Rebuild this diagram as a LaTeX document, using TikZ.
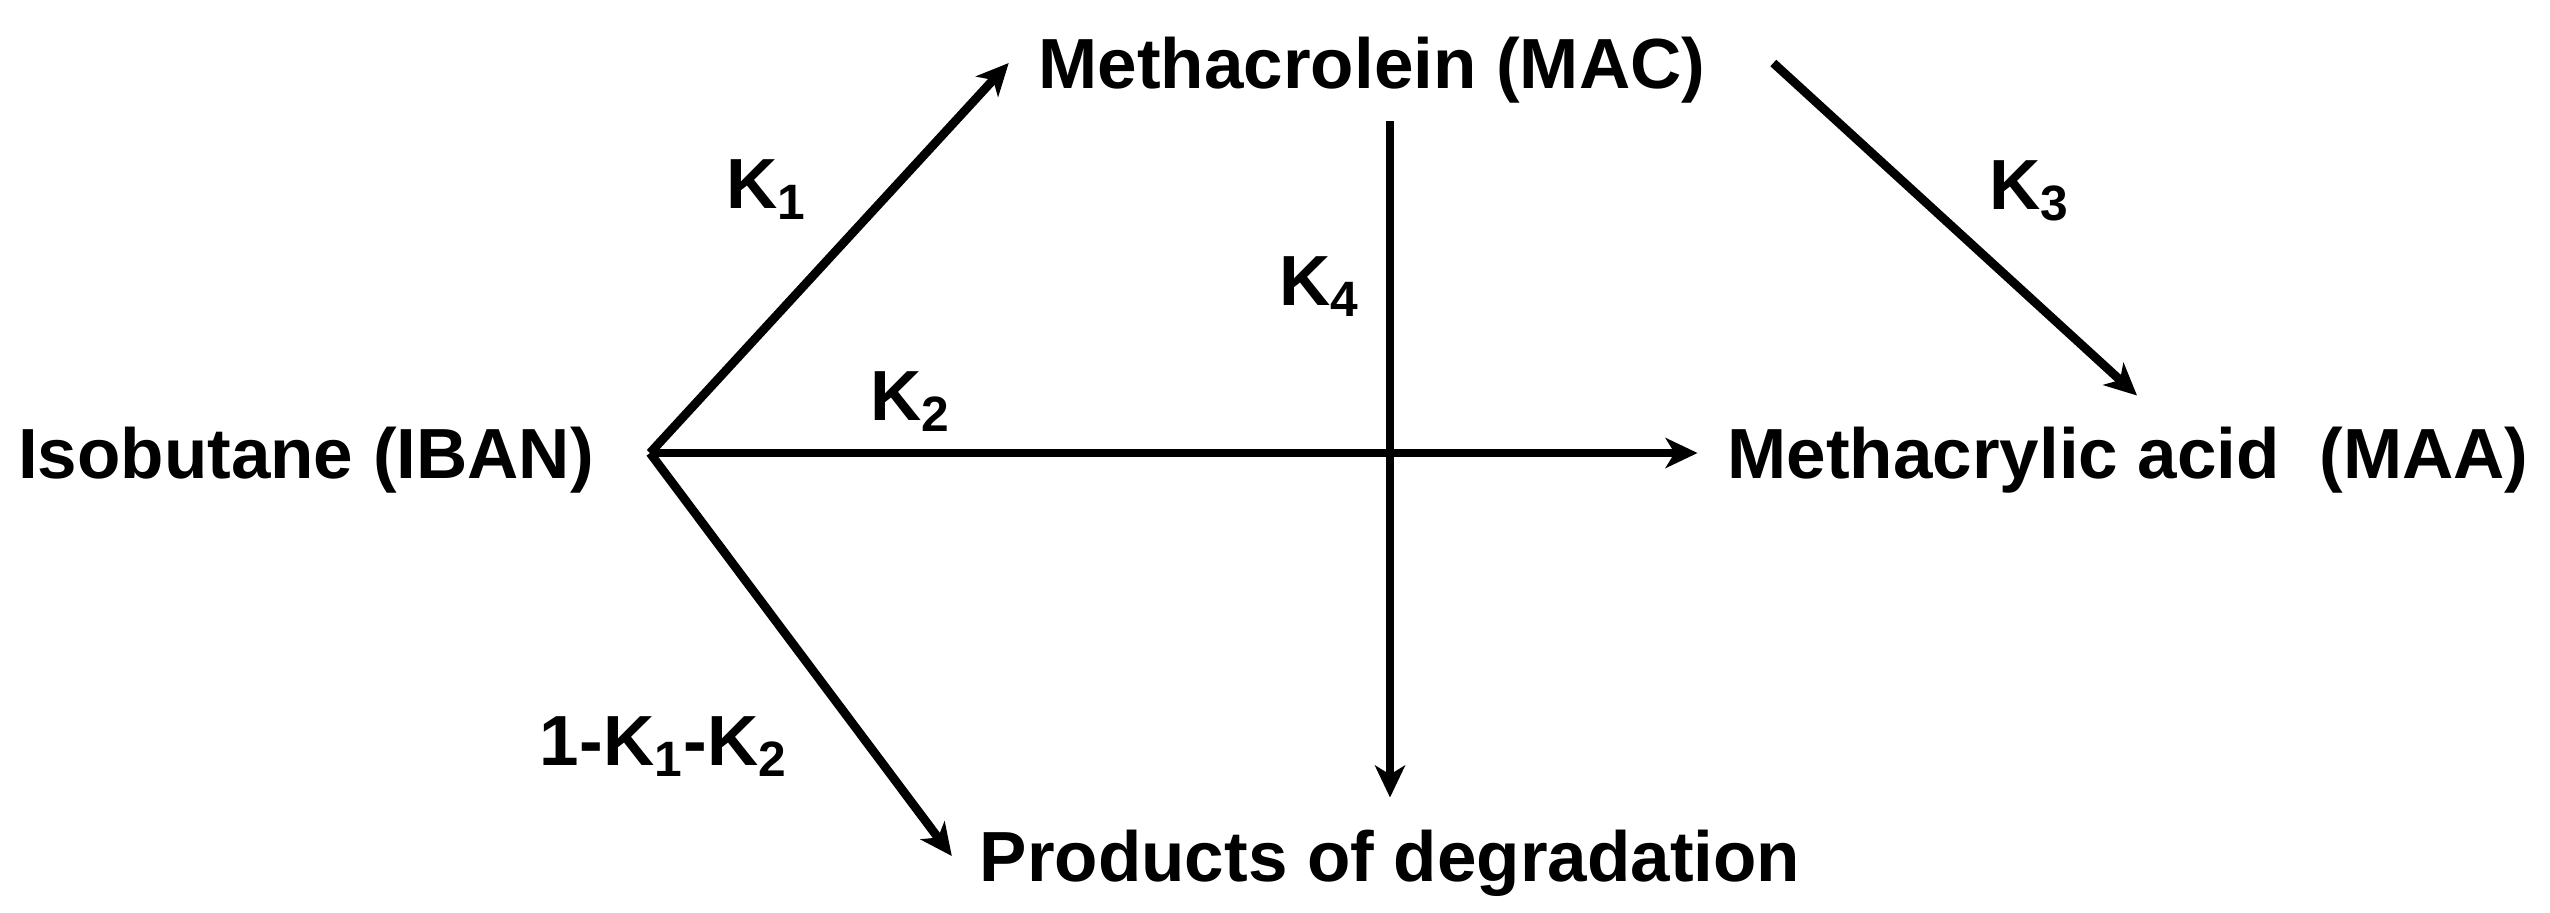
\documentclass[tikz,border=0pt]{standalone}
\usepackage{fontspec}
\setmainfont{Liberation Sans}
\usetikzlibrary{positioning,arrows.meta}

\begin{document}
\begin{tikzpicture}[
      nodes={
        font=\fontsize{20.2}{24}\selectfont\bfseries,
        inner sep=0pt, outer sep=0pt, text height=14.5pt, text depth=0pt
      },
      on grid, line width=2.5pt,
      >={Stealth[length=3.2mm,width=3mm,inset=0.9mm]}
      ]

  \useasboundingbox (0,0) rectangle (25.5,-9.12);

	  \node (iban) at (3.06,-4.53) {Isobutane (IBAN)};
	  \node[above right = 3.90 and 10.66 of iban] (mac) {Methacrolein (MAC)};
	  \node[right = 18.22 of iban] (maa) {Methacrylic acid\ \ (MAA)};
	  \node[below right = 4.03 and 10.84 of iban] (prod) {Products of degradation};
	  \coordinate[right = 3.44 of iban] (fork);

	  \node[above right = 2.70 and 4.61 of iban] (k1) {K\textsubscript{1}};
	  \node[above right = 0.58 and 6.05 of iban] (k2) {K\textsubscript{2}};
	  \node[above right = 2.69 and 17.24 of iban] (k3) {K\textsubscript{3}};
	  \node[above right = 1.73 and 10.14 of iban] (k4) {K\textsubscript{4}};
	  \node[below right = 2.87 and 3.58 of iban] (k12) {1-K\textsubscript{1}-K\textsubscript{2}};

  % Connect the nodes

  \draw[->] (fork) -- ([xshift=-3mm]mac.west);
  \draw[->] (fork) -- ([xshift=-3mm]maa.west);
  \draw[->] (fork) -- ([xshift=-2.8mm]prod.west);
  \draw[->] ([xshift=6.8mm]mac.east) -- ([shift={(0.9mm,3.2mm)}]maa.north);
  \draw[->] ([yshift=-3.3mm]prod.north |- mac.south) -- ([yshift=3.3mm]prod.north);

\end{tikzpicture}
\end{document}
